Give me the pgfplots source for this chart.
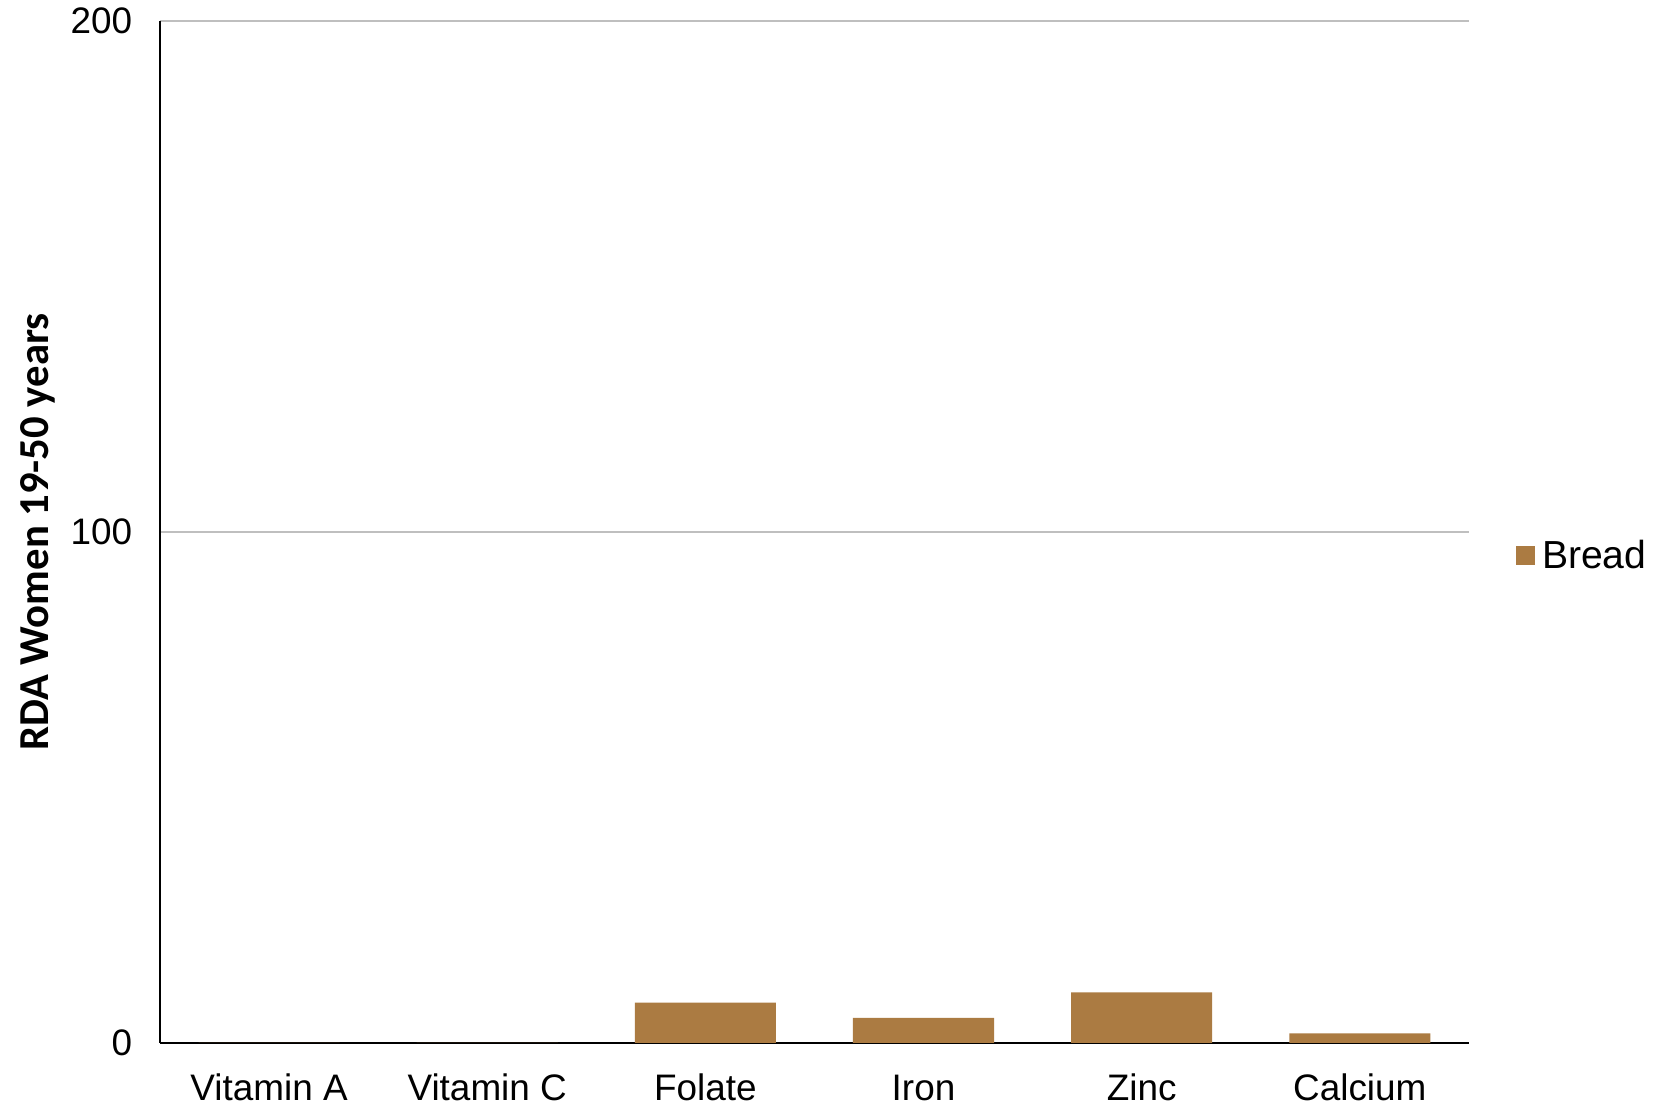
\documentclass[border=0pt]{standalone}
\usepackage{pgfplots}
\pgfplotsset{compat=1.18}
\usepackage{fontspec}
\setmainfont{Liberation Sans}
\newfontfamily\labelfont{Carlito}
\definecolor{breadbrown}{RGB}{171,123,66}
\definecolor{gridgray}{RGB}{191,191,191}

\begin{document}
\begin{tikzpicture}
\useasboundingbox (-72pt,-30.15pt) rectangle (675.45pt,469.35pt);
\begin{axis}[
  at={(0,0)}, anchor=south west,
  scale only axis,
  width=589pt, height=460pt,
  xmin=-0.5, xmax=5.5,
  ymin=0, ymax=200,
  xtick={0,1,2,3,4,5},
  xticklabels={Vitamin A, Vitamin C, Folate, Iron, Zinc, Calcium},
  ytick={0,100,200},
  major tick length=0pt,
  ymajorgrids,
  grid style={gridgray, line width=0.7pt},
  axis x line*=bottom,
  axis y line*=left,
  axis line style={black, line width=0.9pt},
  tick label style={font=\fontsize{16.6}{20}\selectfont},
  /pgf/number format/assume math mode=true,
  yticklabel style={xshift=-9pt},
  xticklabel style={anchor=base, yshift=-26pt},
  ylabel={\labelfont\bfseries RDA Women 19-50 years},
  y label style={at={(axis description cs:-0.0932,0.5)}, anchor=center,
    font=\fontsize{19.2}{22}\selectfont},
  legend style={draw=none, fill=none, at={(1.036,0.4765)}, anchor=west,
    font=\fontsize{17.6}{20}\selectfont, inner sep=0pt,
    legend cell align=left,
    nodes={inner xsep=3pt}},
  legend image code/.code={\fill[#1] (0pt,-4.25pt) rectangle (8.5pt,4.25pt);},
]
\addplot[ybar, bar width=63.5pt, fill=breadbrown, draw=none]
  coordinates {(0,0) (1,0) (2,7.9) (3,4.9) (4,9.9) (5,1.9)};
\addlegendentry{Bread}
\end{axis}
\end{tikzpicture}
\end{document}
